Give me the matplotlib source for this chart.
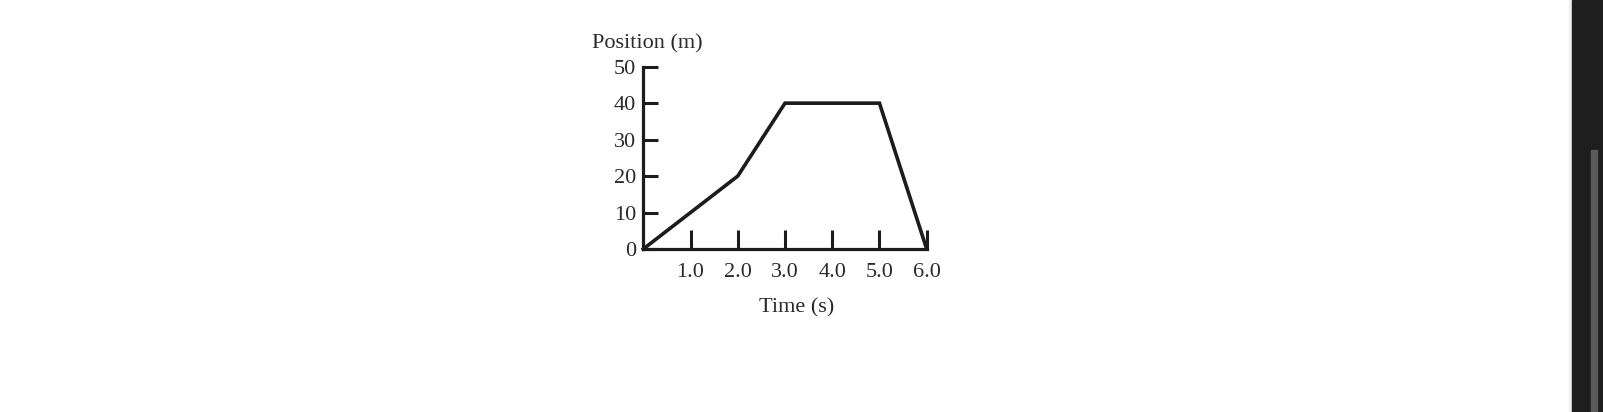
import matplotlib
matplotlib.use("Agg")
import matplotlib.pyplot as plt
from matplotlib.patches import Rectangle

# position-time data (s, m)
time_s = [0.0, 2.0, 3.0, 5.0, 6.0]
position_m = [0, 20, 40, 40, 0]
x_ticks = [1.0, 2.0, 3.0, 4.0, 5.0, 6.0]
x_tick_labels = ["1.0", "2.0", "3.0", "4.0", "5.0", "6.0"]
y_ticks = [0, 10, 20, 30, 40, 50]

plt.rcParams["font.family"] = ["Liberation Serif", "DejaVu Serif"]
ink = "#1c1c1c"
txt = "#2a2a2a"

fig = plt.figure(figsize=(16.03, 4.12), dpi=100)
ax = fig.add_axes([0.4013, 0.3956, 0.1768, 0.4425])

ax.plot(time_s, position_m, color=ink, lw=2.6, clip_on=False,
        solid_joinstyle="miter")
ax.set_xlim(0, 6)
ax.set_ylim(0, 50)

for side in ("top", "right"):
    ax.spines[side].set_visible(False)
for side in ("left", "bottom"):
    ax.spines[side].set_linewidth(2.3)
    ax.spines[side].set_color(ink)
    ax.spines[side].set_capstyle("projecting")

ax.set_xticks(x_ticks)
ax.set_xticklabels(x_tick_labels)
ax.set_yticks(y_ticks)
ax.tick_params(axis="x", direction="in", length=13.5, width=2.2, color=ink,
               pad=10, labelsize=16, labelcolor=txt)
ax.tick_params(axis="y", direction="in", length=11, width=2.2, color=ink,
               pad=5, labelsize=16, labelcolor=txt)

ax.text(0.015, 1.07, "Position (m)", transform=ax.transAxes, ha="center",
        va="bottom", fontsize=16, color=txt)
ax.text(0.54, -0.27, "Time (s)", transform=ax.transAxes, ha="center",
        va="top", fontsize=16, color=txt)

# right-hand window chrome
fig.patches.append(Rectangle((1569 / 1603, 0), 3 / 1603, 1, transform=fig.transFigure,
                             color="#f0f0f0", zorder=0))
fig.patches.append(Rectangle((1572 / 1603, 0), 31 / 1603, 1, transform=fig.transFigure,
                             color="#1e1e1e", zorder=0))
fig.patches.append(Rectangle((1591 / 1603, 0), 6 / 1603, 262 / 412, transform=fig.transFigure,
                             color="#5a5a5a", zorder=1))

fig.savefig("out.png", dpi=100)
